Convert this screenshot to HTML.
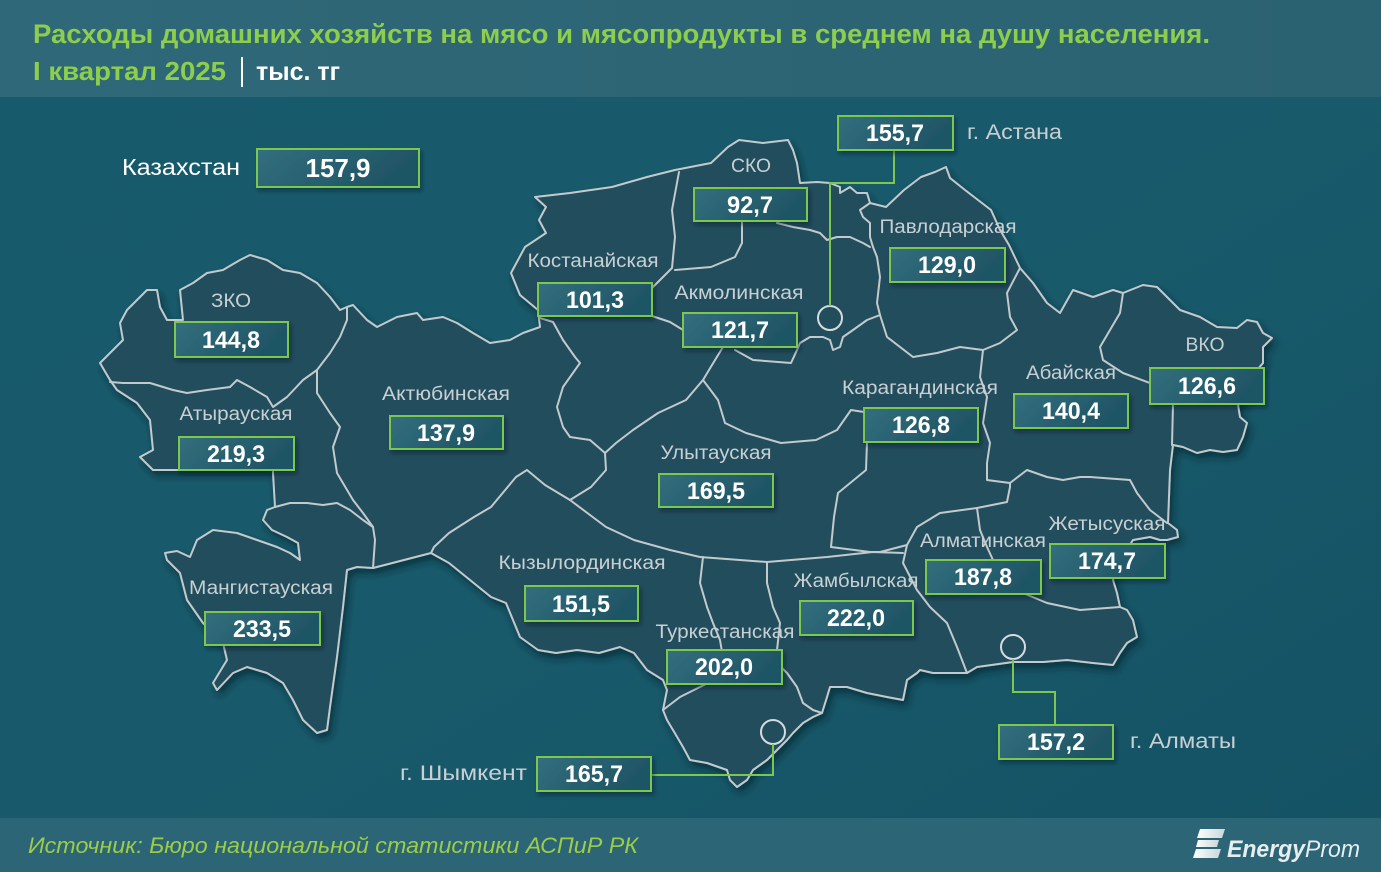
<!DOCTYPE html>
<html><head><meta charset="utf-8"><style>
html,body{margin:0;padding:0;background:#165668;}
svg{display:block;}
</style></head><body>
<svg width="1381" height="872" viewBox="0 0 1381 872" xmlns="http://www.w3.org/2000/svg">
<defs>
<linearGradient id="bg" x1="0" y1="0" x2="1" y2="1">
<stop offset="0" stop-color="#175a6c"/><stop offset="0.5" stop-color="#185a6b"/><stop offset="1" stop-color="#145264"/>
</linearGradient>
<linearGradient id="hd" x1="0" y1="0" x2="1" y2="0">
<stop offset="0" stop-color="#2f6878"/><stop offset="1" stop-color="#2b6272"/>
</linearGradient>
<linearGradient id="bx" x1="0" y1="0" x2="1" y2="0.3">
<stop offset="0" stop-color="#336f7e"/><stop offset="1" stop-color="#1e5464"/>
</linearGradient>
<linearGradient id="lg" x1="0" y1="0" x2="1" y2="0">
<stop offset="0" stop-color="#ffffff"/><stop offset="1" stop-color="#c9d6da"/>
</linearGradient>
<filter id="sh" x="-10%" y="-10%" width="120%" height="125%">
<feDropShadow dx="3" dy="5" stdDeviation="4" flood-color="#061f28" flood-opacity="0.6"/>
</filter>
<filter id="bs" x="-10%" y="-20%" width="125%" height="150%">
<feDropShadow dx="2" dy="3" stdDeviation="2" flood-color="#061f28" flood-opacity="0.45"/>
</filter>
</defs>

<rect x="0" y="0" width="1381" height="872" fill="url(#bg)"/>
<rect x="0" y="0" width="1381" height="97" fill="url(#hd)"/>
<rect x="0" y="818" width="1381" height="54" fill="#2c6575"/>

<!-- Title -->
<g font-family="Liberation Sans, sans-serif" font-weight="bold">
<text x="33" y="43" font-size="27" fill="#8dce4d" textLength="1177" lengthAdjust="spacingAndGlyphs">Расходы домашних хозяйств на мясо и мясопродукты в среднем на душу населения.</text>
<text x="33" y="80" font-size="26" fill="#8dce4d" textLength="193" lengthAdjust="spacingAndGlyphs">I квартал 2025</text>
<text x="256" y="80" font-size="25" fill="#ffffff" textLength="84" lengthAdjust="spacingAndGlyphs">тыс. тг</text>
</g>
<rect x="241" y="57" width="2" height="30" fill="#ffffff"/>

<!-- Map -->
<g filter="url(#sh)">
<path fill="#214e5d" stroke="#c2cacd" stroke-width="2" stroke-linejoin="round" d="M100,363 L110,353 L123,340 L120,323 L127,310 L140,297 L147,290 L157,290 L160,307 L167,320 L183,320 L180,290 L193,283 L207,273 L223,270 L240,260 L250,255 L267,260 L283,270 L300,273 L317,283 L330,297 L340,310 L347,307 L353,305 L367,320 L377,327 L397,317 L417,313 L423,320 L443,317 L457,323 L473,333 L490,343 L510,340 L523,333 L540,327 L538,310 L520,295 L511,273 L525,247 L546,233 L539,220 L546,207 L535,197 L570,193 L612,187 L647,177 L675,170 L711,163 L728,147 L739,140 L763,143 L788,140 L793,150 L797,163 L800,183 L817,182 L830,183 L840,187 L840,193 L850,187 L857,193 L867,193 L870,203 L886,207 L904,190 L921,177 L935,172 L946,167 L950,178 L965,190 L991,210 L1000,230 L1009,245 L1020,268 L1033,283 L1047,303 L1060,313 L1073,290 L1093,297 L1113,290 L1123,293 L1143,285 L1157,287 L1170,300 L1180,310 L1200,317 L1217,327 L1237,328 L1247,320 L1257,322 L1263,333 L1272,338 L1263,347 L1263,363 L1257,370 L1245,400 L1238,405 L1240,417 L1247,423 L1243,437 L1237,450 L1223,452 L1210,450 L1197,453 L1183,447 L1173,445 L1170,470 L1168,523 L1177,530 L1178,537 L1167,540 L1160,540 L1150,537 L1133,540 L1120,560 L1113,580 L1117,593 L1120,607 L1127,610 L1133,620 L1137,637 L1127,643 L1120,653 L1113,665 L1093,663 L1067,660 L1043,662 L1013,662 L977,667 L967,673 L933,673 L920,670 L917,673 L907,680 L903,700 L887,697 L867,693 L847,687 L830,687 L827,697 L822,713 L813,717 L803,723 L793,733 L787,740 L777,750 L767,760 L753,770 L747,780 L737,787 L730,780 L727,770 L707,763 L690,760 L683,747 L673,730 L667,720 L663,710 L667,690 L663,680 L647,670 L634,653 L620,647 L599,653 L577,650 L556,653 L538,650 L520,637 L506,603 L491,597 L470,580 L449,563 L431,553 L373,568 L357,567 L347,570 L343,607 L337,657 L330,707 L327,730 L317,733 L303,720 L293,700 L283,683 L267,673 L247,667 L233,673 L217,690 L213,683 L227,660 L223,643 L203,623 L187,600 L180,573 L167,560 L165,553 L177,551 L190,557 L197,540 L213,530 L237,533 L257,540 L277,547 L290,553 L300,560 L298,543 L287,537 L272,530 L263,520 L267,510 L275,507 L273,473 L273,470 L180,470 L153,470 L140,457 L153,450 L150,420 L137,403 L117,390 L110,380 Z"/>
</g>

<g fill="none" stroke="#c2cacd" stroke-width="2" stroke-linejoin="round" stroke-linecap="round">
<!-- ZKO / Atyrau -->
<polyline points="110,382 123,383 150,383 173,390 187,393 207,390 230,387 237,380 250,387 267,397 273,407 287,397 303,380 317,370"/>
<!-- ZKO / Aktobe -->
<polyline points="317,370 330,353 340,337 347,320 347,307"/>
<!-- Atyrau / Aktobe -->
<polyline points="317,370 317,393 330,413 340,427 333,447 337,473 353,500 363,513 373,527"/>
<!-- Atyrau / Mangistau -->
<polyline points="275,507 290,503 307,503 323,505 337,503 350,510 363,520 373,527 375,540 373,568"/>
<!-- Aktobe / Kostanay -->
<polyline points="540,318 553,322 563,340 575,357 580,363 563,387 557,407 563,427 570,437 590,440 605,453"/>
<!-- Aktobe / Ulytau, Kyzylorda -->
<polyline points="605,453 606,470 591,487 570,500 545,485 527,470 516,477 491,507 474,517 449,533 434,547 431,553"/>
<!-- Kyzylorda / Ulytau / Jambyl -->
<polyline points="570,500 606,527 634,540 670,550 700,557 767,562 827,557 873,552 903,553"/>
<!-- Kyzylorda / Turkestan -->
<polyline points="703,557 700,583 707,607 713,623 720,640 722,652"/>
<!-- Turkestan / Jambyl -->
<polyline points="767,562 767,583 773,607 780,623 777,650"/>
<polyline points="782,668 787,673 797,687 803,703 813,710 822,713"/>
<!-- Turkestan internal -->
<polyline points="663,710 680,697 700,687 720,677"/>
<!-- Kostanay / Ulytau / Karaganda -->
<polyline points="723,347 712,365 703,380 686,400 658,413 633,430 616,443 605,453"/>
<polyline points="703,380 718,400 725,423 746,433 781,443 816,440 837,430 851,410 864,412"/>
<polyline points="867,442 866,470 838,493 834,517 831,547"/>
<!-- Kostanay / SKO / Akmola -->
<polyline points="679,172 672,210 675,237 672,268 660,280 652,288"/>
<polyline points="652,316 670,322 683,330"/>
<!-- SKO / Akmola -->
<polyline points="742,222 742,243 735,257 711,267 675,270"/>
<polyline points="777,223 793,227 810,230 820,233 827,240 837,237 850,237 863,243 870,247"/>
<!-- Pavlodar west -->
<polyline points="870,203 860,210 863,217 870,223 870,237 873,247 877,257 880,277 877,303 880,315"/>
<!-- Akmola / Karaganda -->
<polyline points="880,315 867,320 853,330 843,337 840,347 833,350 830,340 823,337 810,337 800,343 797,350 791,363 753,360 735,350"/>
<!-- Pavlodar / Karaganda -->
<polyline points="880,315 887,337 913,357 937,353 960,347 983,350"/>
<!-- Pavlodar / Abai -->
<polyline points="983,350 1000,343 1017,330 1010,317 1007,293 1020,268"/>
<!-- Karaganda / Abai -->
<polyline points="983,350 980,377 987,397 983,423 990,443 987,463 987,480 1010,483 1010,487"/>
<!-- Karaganda south -->
<polyline points="831,547 870,552 880,552 907,545 917,527 940,513 977,508 1007,502 1010,487"/>
<!-- Jambyl / Almaty -->
<polyline points="907,545 903,563 917,590 930,607 947,623 957,647 967,673"/>
<!-- Abai / Jetysu -->
<polyline points="1010,483 1027,470 1047,477 1063,480 1080,477 1090,477 1130,480 1137,493 1150,510 1167,523"/>
<!-- Almaty / Jetysu -->
<polyline points="977,508 980,530 987,547 993,560"/>
<polyline points="1023,593 1047,603 1080,610 1120,607"/>
<!-- Abai / VKO -->
<polyline points="1123,293 1120,313 1110,330 1100,347 1103,360 1123,373 1150,383"/>
<!-- VKO / Jetysu-Abai -->
<polyline points="1173,404 1172,445"/>
</g>

<!-- city circles -->
<g fill="none" stroke="#d5dcdf" stroke-width="2">
<circle cx="830" cy="318" r="12"/>
<circle cx="1013" cy="647" r="12"/>
<circle cx="773" cy="732" r="12"/>
</g>
<!-- connectors -->
<g fill="none" stroke="#7cc74e" stroke-width="2">
<polyline points="830,306 830,183 894,183 894,150"/>
<polyline points="1013,659 1013,692 1055,692 1055,725"/>
<polyline points="773,744 773,775 651,775"/>
</g>

<!-- Region labels -->
<g font-family="Liberation Sans, sans-serif" font-size="19" fill="#c8d0d3" text-anchor="middle" lengthAdjust="spacingAndGlyphs">
<text x="231" y="307" textLength="40" lengthAdjust="spacingAndGlyphs">ЗКО</text>
<text x="236" y="420" textLength="113" lengthAdjust="spacingAndGlyphs">Атырауская</text>
<text x="446" y="400" textLength="128" lengthAdjust="spacingAndGlyphs">Актюбинская</text>
<text x="261" y="594" textLength="144" lengthAdjust="spacingAndGlyphs">Мангистауская</text>
<text x="593" y="267" textLength="131" lengthAdjust="spacingAndGlyphs">Костанайская</text>
<text x="751" y="172" textLength="40" lengthAdjust="spacingAndGlyphs">СКО</text>
<text x="739" y="299" textLength="129" lengthAdjust="spacingAndGlyphs">Акмолинская</text>
<text x="948" y="233" textLength="137" lengthAdjust="spacingAndGlyphs">Павлодарская</text>
<text x="920" y="394" textLength="156" lengthAdjust="spacingAndGlyphs">Карагандинская</text>
<text x="716" y="459" textLength="111" lengthAdjust="spacingAndGlyphs">Улытауская</text>
<text x="1071" y="379" textLength="90" lengthAdjust="spacingAndGlyphs">Абайская</text>
<text x="1205" y="351" textLength="39" lengthAdjust="spacingAndGlyphs">ВКО</text>
<text x="582" y="569" textLength="167" lengthAdjust="spacingAndGlyphs">Кызылординская</text>
<text x="856" y="587" textLength="125" lengthAdjust="spacingAndGlyphs">Жамбылская</text>
<text x="725" y="638" textLength="139" lengthAdjust="spacingAndGlyphs">Туркестанская</text>
<text x="983" y="547" textLength="126" lengthAdjust="spacingAndGlyphs">Алматинская</text>
<text x="1107" y="530" textLength="117" lengthAdjust="spacingAndGlyphs">Жетысуская</text>
</g>

<!-- City labels -->
<g font-family="Liberation Sans, sans-serif" font-size="21" fill="#c8d0d3">
<text x="967" y="139" textLength="95" lengthAdjust="spacingAndGlyphs">г. Астана</text>
<text x="1130" y="748" textLength="106" lengthAdjust="spacingAndGlyphs">г. Алматы</text>
<text x="400" y="780" textLength="127" lengthAdjust="spacingAndGlyphs">г. Шымкент</text>
</g>
<text x="122" y="175" font-family="Liberation Sans, sans-serif" font-size="23" fill="#ffffff" textLength="118" lengthAdjust="spacingAndGlyphs">Казахстан</text>

<!-- Value boxes -->
<g filter="url(#bs)" fill="url(#bx)" stroke="#7cc74e" stroke-width="2">
<rect x="257" y="149" width="162" height="38"/>
<rect x="838" y="116" width="115" height="34"/>
<rect x="694" y="188" width="113" height="33"/>
<rect x="890" y="248" width="115" height="34"/>
<rect x="538" y="283" width="114" height="33"/>
<rect x="175" y="322" width="113" height="35"/>
<rect x="683" y="313" width="114" height="34"/>
<rect x="1150" y="368" width="114" height="36"/>
<rect x="1014" y="394" width="114" height="34"/>
<rect x="864" y="408" width="114" height="34"/>
<rect x="390" y="416" width="113" height="33"/>
<rect x="179" y="437" width="115" height="33"/>
<rect x="659" y="474" width="114" height="33"/>
<rect x="1050" y="544" width="115" height="34"/>
<rect x="926" y="560" width="115" height="34"/>
<rect x="525" y="586" width="113" height="35"/>
<rect x="800" y="601" width="113" height="34"/>
<rect x="205" y="612" width="115" height="33"/>
<rect x="667" y="650" width="115" height="34"/>
<rect x="999" y="725" width="114" height="34"/>
<rect x="537" y="757" width="114" height="34"/>
</g>

<g font-family="Liberation Sans, sans-serif" font-weight="bold" font-size="24" fill="#ffffff" text-anchor="middle">
<text x="338" y="177" font-size="26" textLength="65" lengthAdjust="spacingAndGlyphs">157,9</text>
<text x="895" y="141" textLength="58" lengthAdjust="spacingAndGlyphs">155,7</text>
<text x="750" y="213" textLength="46" lengthAdjust="spacingAndGlyphs">92,7</text>
<text x="947" y="273" textLength="58" lengthAdjust="spacingAndGlyphs">129,0</text>
<text x="595" y="308" textLength="58" lengthAdjust="spacingAndGlyphs">101,3</text>
<text x="231" y="348" textLength="58" lengthAdjust="spacingAndGlyphs">144,8</text>
<text x="740" y="338" textLength="58" lengthAdjust="spacingAndGlyphs">121,7</text>
<text x="1207" y="394" textLength="58" lengthAdjust="spacingAndGlyphs">126,6</text>
<text x="1071" y="419" textLength="58" lengthAdjust="spacingAndGlyphs">140,4</text>
<text x="921" y="433" textLength="58" lengthAdjust="spacingAndGlyphs">126,8</text>
<text x="446" y="441" textLength="58" lengthAdjust="spacingAndGlyphs">137,9</text>
<text x="236" y="462" textLength="58" lengthAdjust="spacingAndGlyphs">219,3</text>
<text x="716" y="499" textLength="58" lengthAdjust="spacingAndGlyphs">169,5</text>
<text x="1107" y="569" textLength="58" lengthAdjust="spacingAndGlyphs">174,7</text>
<text x="983" y="585" textLength="58" lengthAdjust="spacingAndGlyphs">187,8</text>
<text x="581" y="612" textLength="58" lengthAdjust="spacingAndGlyphs">151,5</text>
<text x="856" y="626" textLength="58" lengthAdjust="spacingAndGlyphs">222,0</text>
<text x="262" y="637" textLength="58" lengthAdjust="spacingAndGlyphs">233,5</text>
<text x="724" y="675" textLength="58" lengthAdjust="spacingAndGlyphs">202,0</text>
<text x="1056" y="750" textLength="58" lengthAdjust="spacingAndGlyphs">157,2</text>
<text x="594" y="782" textLength="58" lengthAdjust="spacingAndGlyphs">165,7</text>
</g>

<!-- Footer -->
<text x="28" y="853" font-family="Liberation Sans, sans-serif" font-style="italic" font-size="22" fill="#9ccd48" textLength="610" lengthAdjust="spacingAndGlyphs">Источник: Бюро национальной статистики АСПиР РК</text>
<g fill="url(#lg)">
<polygon points="1200,829 1225,829 1222,838 1197,838"/>
<polygon points="1198,840 1219,840 1217,847 1196,847"/>
<polygon points="1196,849 1221,849 1218,858 1193,858"/>
</g>
<text x="1227" y="857" font-family="Liberation Sans, sans-serif" font-style="italic" font-size="24" fill="#e6eef0" textLength="133" lengthAdjust="spacingAndGlyphs"><tspan font-weight="bold">Energy</tspan>Prom</text>
</svg>
</body></html>
